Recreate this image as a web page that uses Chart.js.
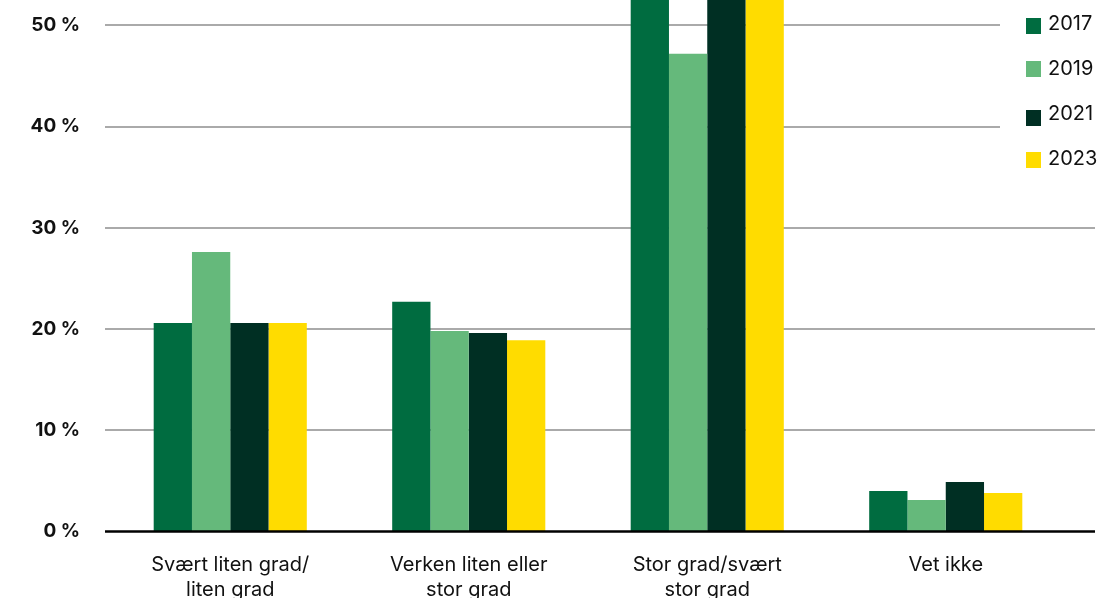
<!DOCTYPE html>
<html lang="no">
<head>
<meta charset="utf-8">
<script src="https://cdn.jsdelivr.net/npm/chart.js@4"></script>
<style>
  html, body { margin: 0; padding: 0; background: #fff; overflow: hidden; }
  #wrap { width: 1097px; height: 598px; position: relative; }
</style>
</head>
<body>
<div id="wrap"><canvas id="c" width="1097" height="598"></canvas></div>
<script>
// Svarfordeling per år
const categories = [
  ['Svært liten grad/', 'liten grad'],
  ['Verken liten eller', 'stor grad'],
  ['Stor grad/svært', 'stor grad'],
  'Vet ikke'
];
const years = ['2017', '2019', '2021', '2023'];
const values2017 = [20.6, 22.7, 52.5, 4.0];
const values2019 = [27.6, 19.8, 47.2, 3.1];
const values2021 = [20.6, 19.6, 55.0, 4.9];
const values2023 = [20.6, 18.9, 57.0, 3.8];
const yTicks = [0, 10, 20, 30, 40, 50];
const colors = ['#006c40', '#65b97b', '#002f23', '#ffdc00'];

const FONT = 'Inter, "Noto Sans", sans-serif';
const GRID_LEFT = 105, GRID_RIGHT = 1095;

// Horisontale hjelpelinjer og nullinje, trukket litt utenfor plottområdet
const gridPlugin = {
  id: 'gridLines',
  beforeDatasetsDraw(chart) {
    const { ctx, scales: { y } } = chart;
    ctx.save();
    ctx.strokeStyle = '#aaaaaa';
    ctx.lineWidth = 2;
    yTicks.forEach(v => {
      if (v === 0) return;
      const py = Math.round(y.getPixelForValue(v));
      ctx.beginPath();
      ctx.moveTo(GRID_LEFT, py);
      ctx.lineTo(GRID_RIGHT, py);
      ctx.stroke();
    });
    ctx.restore();
  },
  afterDatasetsDraw(chart) {
    const { ctx, scales: { y } } = chart;
    const py = y.getPixelForValue(0);
    ctx.save();
    ctx.strokeStyle = '#000';
    ctx.lineWidth = 2.5;
    ctx.beginPath();
    ctx.moveTo(GRID_LEFT, py);
    ctx.lineTo(GRID_RIGHT, py);
    ctx.stroke();
    ctx.restore();
  }
};

// Tegnforklaring oppe til høyre på hvit bakgrunn
const legendPlugin = {
  id: 'sideLegend',
  afterDraw(chart) {
    const { ctx } = chart;
    ctx.save();
    ctx.fillStyle = '#fff';
    ctx.fillRect(1000, 0, 97, 185);
    const swatchY = [26, 69, 118, 160];
    chart.data.datasets.forEach((ds, i) => {
      ctx.fillStyle = ds.backgroundColor;
      ctx.fillRect(1026, swatchY[i] - 8, 15, 16);
      ctx.fillStyle = '#111';
      ctx.font = '20px ' + FONT;
      ctx.textBaseline = 'middle';
      ctx.textAlign = 'left';
      ctx.fillText(ds.label, 1048, 24 + 45 * i);
    });
    ctx.restore();
  }
};

const seriesValues = [values2017, values2019, values2021, values2023];

new Chart(document.getElementById('c'), {
  type: 'bar',
  data: {
    labels: categories,
    datasets: years.map((yr, i) => ({
      label: yr,
      data: seriesValues[i],
      backgroundColor: colors[i],
      borderWidth: 0,
      categoryPercentage: 0.642,
      barPercentage: 1.0
    }))
  },
  options: {
    responsive: false,
    animation: false,
    devicePixelRatio: 1,
    layout: { padding: { top: 0, right: 32, left: 0, bottom: 0 }, autoPadding: false },
    plugins: { legend: { display: false }, tooltip: { enabled: false } },
    scales: {
      x: {
        grid: { display: false, drawTicks: false },
        border: { display: false },
        ticks: {
          color: '#111',
          padding: 21,
          font: { family: FONT, size: 20, lineHeight: 1.25 },
          maxRotation: 0,
          autoSkip: false
        },
        afterFit(scale) {
          scale.height = 66.5;
          scale.paddingLeft = 0;
          scale.paddingRight = 0;
        }
      },
      y: {
        min: 0,
        max: 52.5,
        grid: { display: false, drawTicks: false },
        border: { display: false },
        ticks: {
          stepSize: 10,
          includeBounds: false,
          padding: 31,
          color: '#111',
          font: { family: FONT, size: 19, weight: 'bold' },
          callback: v => v + ' %'
        },
        afterFit(scale) {
          scale.width = 111;
          scale.paddingTop = 0;
          scale.paddingBottom = 0;
        }
      }
    }
  },
  plugins: [gridPlugin, legendPlugin]
});
</script>
</body>
</html>
